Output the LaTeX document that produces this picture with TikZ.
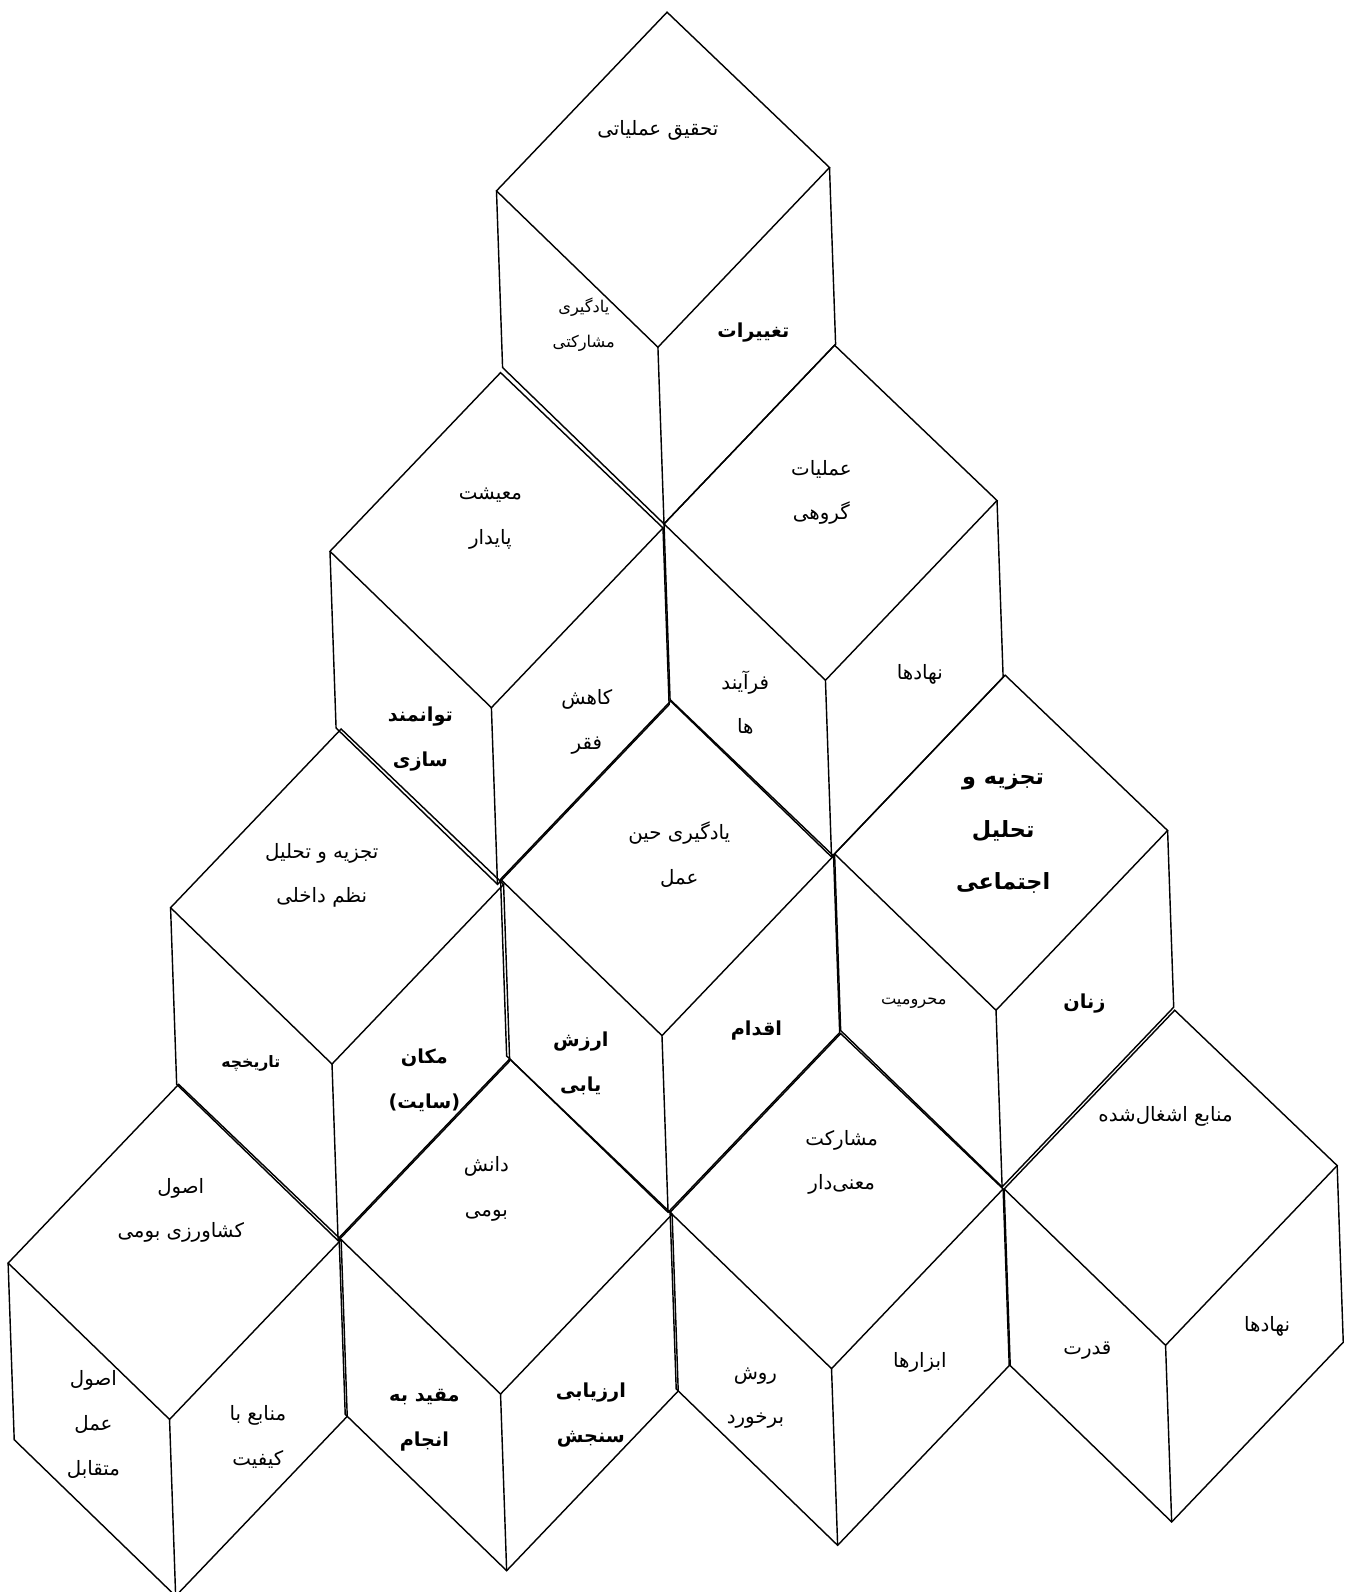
\documentclass[tikz,border=0pt]{standalone}
\usepackage{fontspec}
\usetikzlibrary{calc}
\newfontfamily\arabicfont[Script=Arabic]{DejaVu Sans}
\TeXXeTstate=1
\newcommand\RL[1]{\beginR #1\endR}
\newcommand\mycube[2]{%
 \coordinate (#1t) at #2;
 \coordinate (#1r) at ($(#1t)+(160,153)$);
 \coordinate (#1l) at ($(#1t)+(-168,176)$);
 \coordinate (#1b) at ($(#1t)+(-9,330)$);
 \coordinate (#1lb) at ($(#1l)+(6,174)$);
 \coordinate (#1bb) at ($(#1b)+(6,174)$);
 \coordinate (#1rb) at ($(#1r)+(6,174)$);
 \draw[edge] (#1t)--(#1r)--(#1b)--(#1l)--cycle;
 \draw[edge] (#1l)--(#1lb)--(#1bb)--(#1rb)--(#1r);
 \draw[edge] (#1b)--(#1bb);
}
\tikzset{
 edge/.style={line width=1.4pt, line join=miter, black},
 lbl/.style={align=center, inner sep=0pt, font=\arabicfont\fontsize{19.5}{44}\selectfont},
 lblb/.style={lbl, font=\arabicfont\bfseries\fontsize{19}{44}\selectfont},
 lbls/.style={align=center, inner sep=0pt, font=\arabicfont\fontsize{16}{34}\selectfont},
 lblsb/.style={lbls, font=\arabicfont\bfseries\fontsize{15.5}{34}\selectfont},
 lblbig/.style={align=center, inner sep=0pt, font=\arabicfont\bfseries\fontsize{22}{52}\selectfont},
}
\begin{document}
\begin{tikzpicture}[x=1pt,y=-1pt]
\useasboundingbox (0,0) rectangle (1325,1568);
\fill[white] (0,0) rectangle (1325,1568);
\mycube{a}{(657,12)}
\mycube{b}{(493,367)}
\mycube{c}{(822,340)}
\mycube{d}{(336,718)}
\mycube{e}{(661,690)}
\mycube{f}{(990,665)}
\mycube{g}{(176,1068)}
\mycube{h}{(502,1043)}
\mycube{i}{(828,1018)}
\mycube{j}{(1157,995)}
% cube a
\node[lbl] (aT) at (648,128) {\RL{تحقیق عملیاتی}};
\node[lbls] (aL) at (575,320) {\RL{یادگیری}\\\RL{مشارکتی}};
\node[lblb] (aR) at (742,328) {\RL{تغییرات}};
% cube b
\node[lbl] (bT) at (483,511) {\RL{معیشت}\\\RL{پایدار}};
\node[lblb] (bL) at (414,728) {\RL{توانمند}\\\RL{سازی}};
\node[lbl] (bR) at (578,711) {\RL{کاهش}\\\RL{فقر}};
% cube c
\node[lbl] (cT) at (809,485) {\RL{عملیات}\\\RL{گروهی}};
\node[lbl] (cL) at (734,692) {\RL{فرآیند}\\\RL{ها}};
\node[lbl] (cR) at (906,664) {\RL{نهادها}};
% cube d
\node[lbl] (dT) at (317,862) {\RL{تجزیه و تحلیل}\\\RL{نظم داخلی}};
\node[lblsb] (dL) at (247,1047) {\RL{تاریخچه}};
\node[lblb] (dR) at (418,1064) {\RL{مکان}\\\RL{(سایت)}};
% cube e
\node[lbl] (eT) at (669,842) {\RL{یادگیری حین}\\\RL{عمل}};
\node[lblb] (eL) at (572,1047) {\RL{ارزش}\\\RL{یابی}};
\node[lblb] (eR) at (745,1015) {\RL{اقدام}};
% cube f
\node[lblbig] (fT) at (988,821) {\RL{تجزیه و}\\\RL{تحلیل}\\\RL{اجتماعی}};
\node[lbls] (fL) at (900,988) {\RL{محرومیت}};
\node[lblb] (fR) at (1068,988) {\RL{زنان}};
% cube g
\node[lbl] (gT) at (178,1192) {\RL{اصول}\\\RL{کشاورزی بومی}};
\node[lbl] (gL) at (92,1403) {\RL{اصول}\\\RL{عمل}\\\RL{متقابل}};
\node[lbl] (gR) at (254,1415) {\RL{منابع با}\\\RL{کیفیت}};
% cube h
\node[lbl] (hT) at (479,1171) {\RL{دانش}\\\RL{بومی}};
\node[lblb] (hL) at (418,1399) {\RL{مقید به}\\\RL{انجام}};
\node[lblb] (hR) at (582,1394) {\RL{ارزیابی}\\\RL{سنجش}};
% cube i
\node[lbl] (iT) at (829,1145) {\RL{مشارکت}\\\RL{معنی‌دار}};
\node[lbl] (iL) at (744,1377) {\RL{روش}\\\RL{برخورد}};
\node[lbl] (iR) at (906,1342) {\RL{ابزارها}};
% cube j
\node[lbl] (jT) at (1148,1100) {\RL{منابع اشغال‌شده}};
\node[lbl] (jL) at (1071,1330) {\RL{قدرت}};
\node[lbl] (jR) at (1248,1306) {\RL{نهادها}};
\end{tikzpicture}
\end{document}
